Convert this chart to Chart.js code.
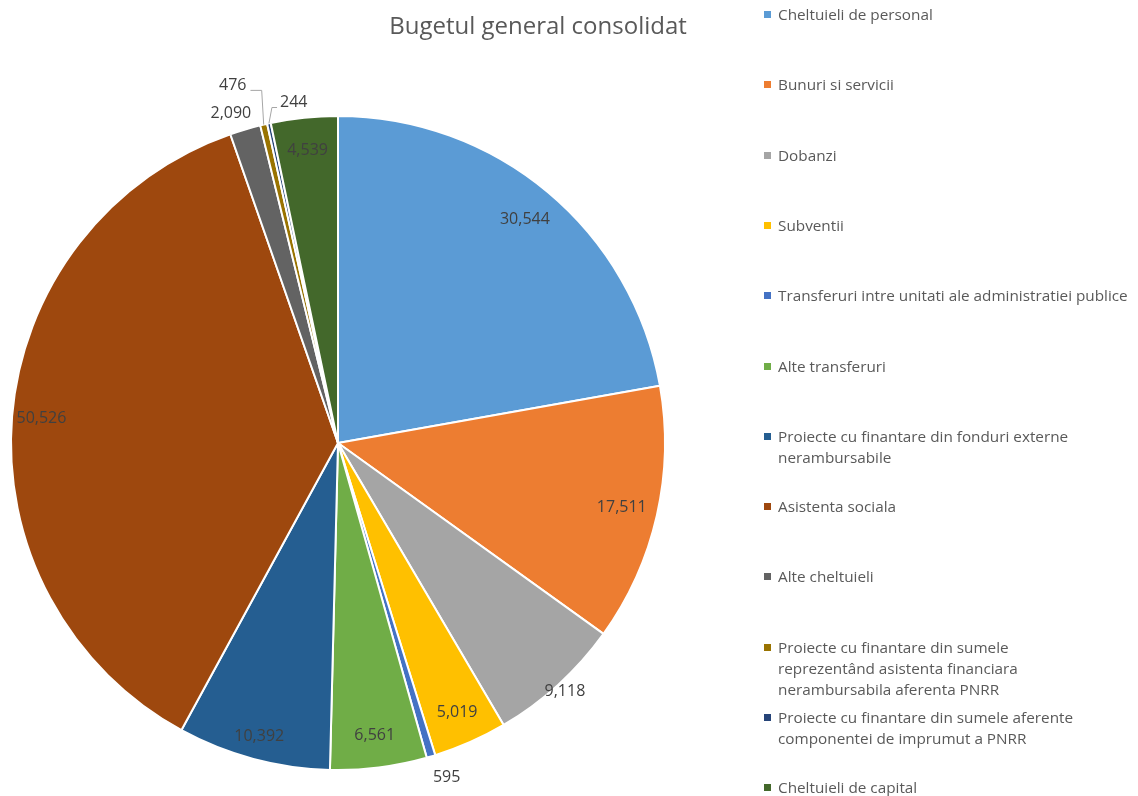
<!DOCTYPE html>
<html>
<head>
<meta charset="utf-8">
<script src="https://cdn.jsdelivr.net/npm/chart.js@4"></script>
<style>
  html, body { margin: 0; padding: 0; background: #fff; }
  #wrap { position: relative; width: 1138px; height: 796px; overflow: hidden; }
  #title { position: absolute; left: 0; width: 1076px; top: 8px; text-align: center;
           font: 24px "Open Sans", sans-serif; color: #595959; }
  #legend { position: absolute; left: 762px; top: 0; }
  .item { position: absolute; left: 0; width: 376px; font: 15.3px/21px "Open Sans", sans-serif; color: #595959; white-space: nowrap; }
  .item .box { position: absolute; left: 2px; top: 7px; width: 7px; height: 7px; }
  .item .txt { margin-left: 16px; display: block; }
</style>
</head>
<body>
<div id="wrap">
  <canvas id="pie" width="1138" height="796"></canvas>
  <div id="title">Bugetul general consolidat</div>
  <div id="legend"></div>
</div>
<script>
// categories (legend text, line breaks as in the original)
const categories = [
    'Cheltuieli de personal',
    'Bunuri si servicii',
    'Dobanzi',
    'Subventii',
    'Transferuri intre unitati ale administratiei publice',
    'Alte transferuri',
    'Proiecte cu finantare din fonduri externe\nnerambursabile',
    'Asistenta sociala',
    'Alte cheltuieli',
    'Proiecte cu finantare din sumele\nreprezentând asistenta financiara\nnerambursabila aferenta PNRR',
    'Proiecte cu finantare din sumele aferente\ncomponentei de imprumut a PNRR',
    'Cheltuieli de capital'
];

// values (as printed on the slices)
const values = [30544, 17511, 9118, 5019, 595, 6561, 10392, 50526, 2090, 476, 244, 4539];

const colors = ['#5B9BD5', '#ED7D31', '#A5A5A5', '#FFC000', '#4472C4', '#70AD47',
                '#255E91', '#9E480E', '#636363', '#997300', '#264478', '#43682B'];

// where each value label sits: radius as a fraction of the pie radius,
// optional angle override (degrees clockwise from top) and a leader line flag
const labelPlacement = [
    { r: 0.89 }, { r: 0.89 }, { r: 1.03 }, { r: 0.90 }, { r: 1.075, deg: 162 }, { r: 0.90 },
    { r: 0.93 }, { r: 0.91 }, { r: 1.06, deg: 342 },
    { r: 1.14, deg: 343.6, leader: true },
    { r: 1.05, deg: 352.6, leader: true },
    { r: 0.90 }
];

const fmt = new Intl.NumberFormat('en-US');

// Build the legend
const legend = document.getElementById('legend');
categories.forEach((name, i) => {
    const item = document.createElement('div');
    item.className = 'item';
    item.style.top = (4 + i * 70.3) + 'px';
    item.innerHTML = `<span class="box" style="background:${colors[i]}"></span>` +
        `<span class="txt">${name.split('\n').join('<br>')}</span>`;
    legend.appendChild(item);
});

// Value labels drawn on / next to the slices
const valueLabels = {
    id: 'valueLabels',
    afterDatasetsDraw(chart) {
        const ctx = chart.ctx;
        const meta = chart.getDatasetMeta(0);
        ctx.save();
        ctx.font = '16px "Open Sans", sans-serif';
        ctx.fillStyle = '#404040';
        ctx.textAlign = 'center';
        ctx.textBaseline = 'middle';
        meta.data.forEach((arc, i) => {
            const p = labelPlacement[i];
            const R = arc.outerRadius;
            const mid = (arc.startAngle + arc.endAngle) / 2;
            const ang = p.deg !== undefined ? (p.deg - 90) * Math.PI / 180 : mid;
            const x = arc.x + Math.cos(ang) * R * p.r;
            const y = arc.y + Math.sin(ang) * R * p.r;
            const text = fmt.format(values[i]);
            if (p.leader) {
                const w = ctx.measureText(text).width;
                const ex = arc.x + Math.cos(mid) * R;
                const ey = arc.y + Math.sin(mid) * R;
                const left = x < ex;
                const elbowX = ex + (left ? -2 : 3);
                ctx.strokeStyle = '#A6A6A6';
                ctx.lineWidth = 1;
                ctx.beginPath();
                ctx.moveTo(ex, ey);
                ctx.lineTo(elbowX, y + 5);
                ctx.lineTo(left ? x + w / 2 + 4 : x - w / 2 - 3, y + 5);
                ctx.stroke();
            }
            ctx.fillText(text, x, y);
        });
        ctx.restore();
    }
};

new Chart(document.getElementById('pie'), {
    type: 'pie',
    data: {
        labels: categories,
        datasets: [{
            data: values,
            backgroundColor: colors,
            borderColor: '#ffffff',
            borderWidth: 2,
            hoverOffset: 0
        }]
    },
    options: {
        responsive: false,
        animation: false,
        layout: { padding: { left: 10, top: 114, right: 472, bottom: 24 } },
        plugins: {
            legend: { display: false },
            title: { display: false },
            tooltip: { enabled: true }
        }
    },
    plugins: [valueLabels]
});
</script>
</body>
</html>
